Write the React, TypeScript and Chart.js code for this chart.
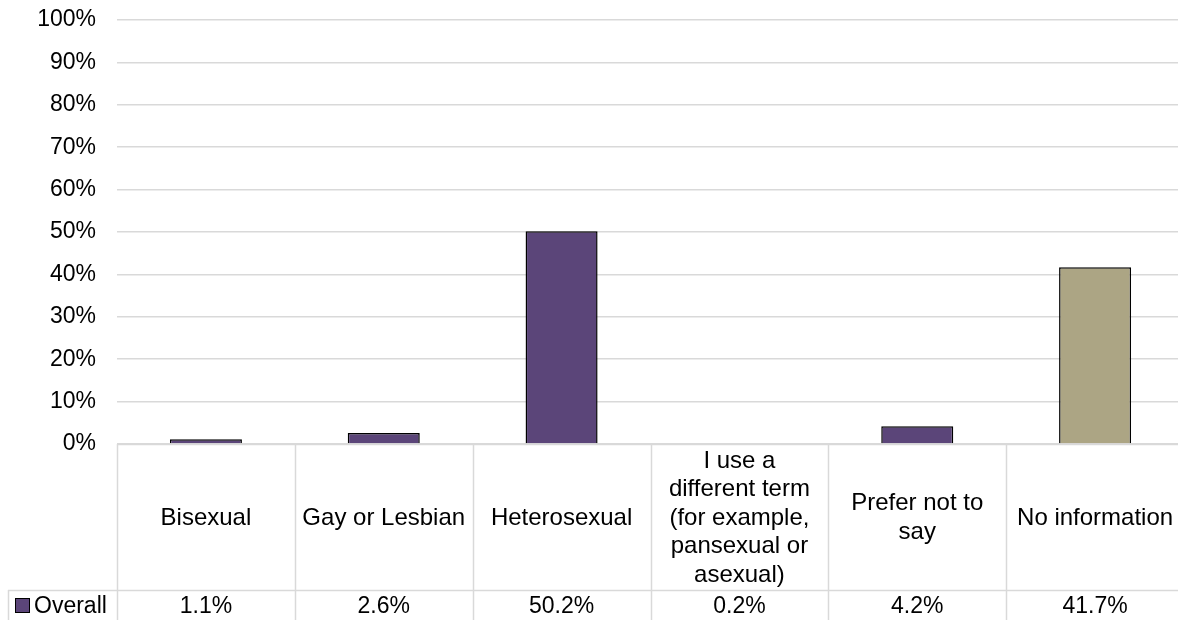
import React, { useEffect, useRef } from "react";
import { Chart, registerables } from "chart.js";

Chart.register(...registerables);

const categories: string[][] = [
  ["Bisexual"],
  ["Gay or Lesbian"],
  ["Heterosexual"],
  ["I use a", "different term", "(for example,", "pansexual or", "asexual)"],
  ["Prefer not to", "say"],
  ["No information"],
];
const seriesName = "Overall";
const values = [1.1, 2.6, 50.2, 0.2, 4.2, 41.7];
const valueLabels = ["1.1%", "2.6%", "50.2%", "0.2%", "4.2%", "41.7%"];
const barColors = ["#5B4579", "#5B4579", "#5B4579", "#5B4579", "#5B4579", "#ACA584"];

const FONT = "'Liberation Sans', Arial, sans-serif";
const GRID = "#d9d9d9";

const tablePlugin = {
  id: "dataTable",
  afterDraw(chart: any) {
    const { ctx, chartArea, scales } = chart;
    const x = scales.x;
    const n = categories.length;
    const top = chartArea.bottom;
    const rowTop = 590;
    const bottom = chart.height;
    const step = (chartArea.right - chartArea.left) / n;
    ctx.save();
    ctx.strokeStyle = GRID;
    ctx.lineWidth = 1.5;
    // axis line
    ctx.beginPath();
    ctx.moveTo(chartArea.left, top + 0.5);
    ctx.lineTo(chartArea.right, top + 0.5);
    ctx.stroke();
    // vertical lines
    for (let i = 0; i <= n; i++) {
      const xv = Math.round(chartArea.left + i * step) + 0.5;
      ctx.beginPath();
      ctx.moveTo(xv, top);
      ctx.lineTo(xv, bottom);
      ctx.stroke();
    }
    // row line
    ctx.beginPath();
    ctx.moveTo(8, rowTop + 0.5);
    ctx.lineTo(chartArea.right, rowTop + 0.5);
    ctx.stroke();
    ctx.beginPath();
    ctx.moveTo(8.5, rowTop);
    ctx.lineTo(8.5, bottom);
    ctx.stroke();

    // category labels
    ctx.fillStyle = "#000";
    ctx.textAlign = "center";
    ctx.textBaseline = "middle";
    ctx.font = `24px ${FONT}`;
    const lh = 28.5;
    const midY = (top + rowTop) / 2 + 1;
    categories.forEach((lines, i) => {
      const cx = x.getPixelForValue(i);
      const start = midY - ((lines.length - 1) * lh) / 2;
      lines.forEach((t, j) => ctx.fillText(t, cx, start + j * lh));
    });
    // values
    ctx.font = `23px ${FONT}`;
    valueLabels.forEach((t, i) => {
      ctx.fillText(t, x.getPixelForValue(i), 607);
    });
    // legend key
    ctx.fillStyle = barColors[0];
    ctx.fillRect(15.5, 598.5, 14, 14);
    ctx.strokeStyle = "#000";
    ctx.lineWidth = 1;
    ctx.strokeRect(15.5, 598.5, 14, 14);
    ctx.fillStyle = "#000";
    ctx.textAlign = "left";
    ctx.fillText(seriesName, 34, 607);
    ctx.restore();
  },
};

export default function App() {
  const ref = useRef<HTMLCanvasElement>(null);
  useEffect(() => {
    const chart = new Chart(ref.current!, {
      type: "bar",
      data: {
        labels: categories.map((c) => c.join(" ")),
        datasets: [
          {
            label: seriesName,
            data: values,
            backgroundColor: barColors,
            borderColor: "#000",
            borderWidth: 1.5,
            barPercentage: 0.405,
            categoryPercentage: 1,
          },
        ],
      },
      options: {
        responsive: false,
        animation: false,
        layout: { padding: { top: 0, left: 0, right: 0, bottom: 0 } },
        plugins: { legend: { display: false }, tooltip: { enabled: false } },
        scales: {
          x: {
            grid: { display: false },
            border: { display: false },
            ticks: { display: false },
            afterFit: (s: any) => {
              s.height = 176;
              s.paddingLeft = 0;
              s.paddingRight = 0;
            },
          },
          y: {
            min: 0,
            max: 100,
            ticks: {
              stepSize: 10,
              callback: (v: any) => `${v}%`,
              color: "#000",
              font: { family: FONT, size: 23 },
              padding: 21,
            },
            grid: { color: GRID, lineWidth: 1.5, drawTicks: false },
            border: { display: false },
            afterFit: (s: any) => {
              s.width = 117;
              s.paddingTop = 20;
              s.paddingBottom = 0;
            },
          },
        },
      },
      plugins: [tablePlugin],
    });
    return () => chart.destroy();
  }, []);
  return (
    <div style={{ position: "fixed", left: 0, top: 0, width: 1178, height: 620, overflow: "hidden", background: "#fff" }}>
      <canvas ref={ref} width={1184} height={620} style={{ display: "block", width: 1184, height: 620 }} />
    </div>
  );
}
